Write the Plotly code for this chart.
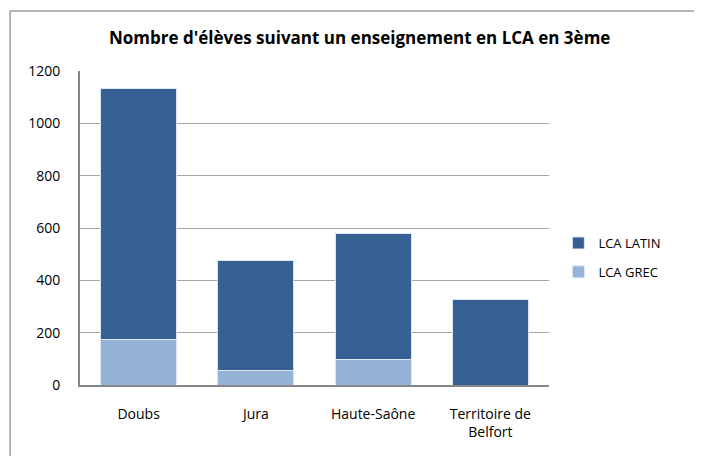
import plotly.graph_objects as go

categories = ["Doubs", "Jura", "Haute-Saône", "Territoire de<br>Belfort"]
lca_grec = [175, 56, 99, 0]
lca_latin = [959, 418, 479, 326]
y_ticks = [0, 200, 400, 600, 800, 1000, 1200]

FONT = "Open Sans"

fig = go.Figure()
fig.add_trace(go.Bar(x=categories, y=lca_grec, name="LCA GREC", legendgroup="g", legendrank=2,
                     marker=dict(color="#95B3D7", line=dict(color="#dce6f2", width=1))))
fig.add_trace(go.Bar(x=categories, y=lca_latin, name="LCA LATIN", legendgroup="l", legendrank=1,
                     marker=dict(color="#366092", line=dict(color="#dce6f2", width=1))))

fig.update_layout(
    width=702, height=456,
    barmode="stack", bargap=0.35,
    plot_bgcolor="white", paper_bgcolor="white",
    margin=dict(l=72, r=161, t=63, b=79),
    font=dict(family=FONT, size=14, color="#000000"),
    title=dict(text="<b>Nombre d'élèves suivant un enseignement en LCA en 3ème</b>",
               x=0.501, xanchor="center", y=0.934, yanchor="middle",
               font=dict(family=FONT, size=17, color="#000000")),
    legend=dict(x=1.02, y=0.406, xanchor="left", yanchor="middle",
                traceorder="grouped", font=dict(size=13),
                itemwidth=30, tracegroupgap=9),
    showlegend=True,
)
fig.update_xaxes(showline=True, linecolor="#868686", linewidth=2, ticks="",
                 ticklabelstandoff=15, tickfont=dict(size=14))
fig.update_yaxes(range=[0, 1200], tickvals=y_ticks, showgrid=True, gridcolor="#a6a6a6",
                 gridwidth=1, showline=True, linecolor="#868686", linewidth=2,
                 zeroline=False, ticks="", ticklabelstandoff=15, tickfont=dict(size=14))
fig.add_shape(type="rect", xref="paper", yref="paper",
              x0=-0.149, x1=1.6, y0=-0.5, y1=1.191,
              line=dict(color="#a0a0a0", width=1.5), layer="below")

fig.write_html("out.html")
